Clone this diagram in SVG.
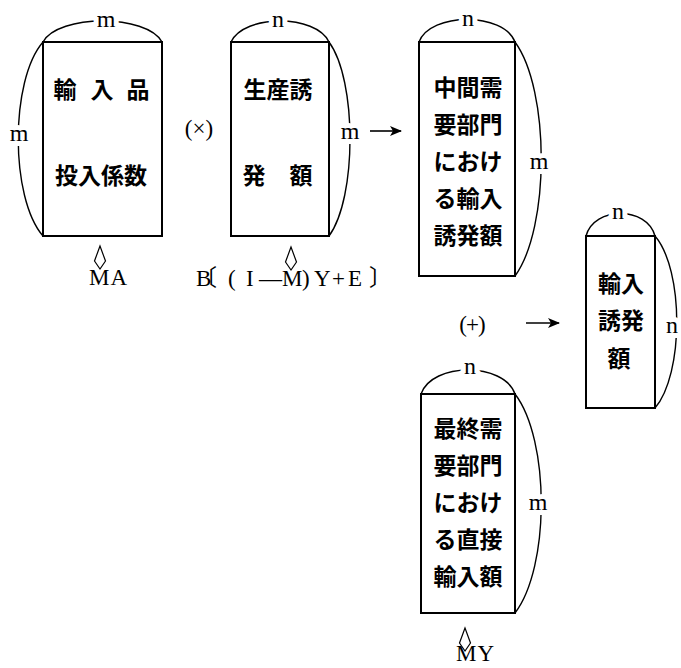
<svg xmlns="http://www.w3.org/2000/svg" width="681" height="668" viewBox="0 0 681 668">
<style>
.box{fill:none;stroke:#000;stroke-width:2}
.arc{fill:none;stroke:#000;stroke-width:1.4}
.jp{font-family:"Noto Sans CJK JP","Noto Sans CJK SC",sans-serif;font-size:23px;font-weight:700;fill:#000;text-anchor:middle}
.lbl{font-family:"Liberation Serif",serif;font-size:24px;fill:#000;text-anchor:middle;stroke:#fff;stroke-width:10px;stroke-linejoin:round;paint-order:stroke}
.ser{font-family:"Liberation Serif","Noto Sans CJK JP",serif;font-size:23px;fill:#000}
.caret{fill:none;stroke:#000;stroke-width:1.2}
.ar{stroke:#000;stroke-width:1.6;fill:none}
</style>
<defs>
<marker id="ah" viewBox="0 0 12 10" refX="11" refY="5" markerWidth="12" markerHeight="10" markerUnits="userSpaceOnUse" orient="auto">
<path d="M0,0 L12,5 L0,10 L3,5 Z" fill="#000"/>
</marker>
</defs>
<rect width="681" height="668" fill="#fff"/>

<g id="connectors">
<line class="ar" x1="370" y1="131" x2="401" y2="131" marker-end="url(#ah)"/>
<line class="ar" x1="526" y1="323" x2="559" y2="323" marker-end="url(#ah)"/>
</g>

<g id="node-import-coeff">
<rect class="box" x="43" y="42" width="119" height="194"/>
<path class="arc" d="M43,42 C58,14 147,14 162,42"/>
<path class="arc" d="M43,42 C10,80 10,198 43,236"/>
<text class="lbl" x="106" y="27">m</text>
<text class="lbl" x="19" y="141">m</text>
<text class="jp" x="65 102 138" y="98">輸入品</text>
<text class="jp" x="101" y="184">投入係数</text>
<path class="caret" d="M100,246 L94.5,261 L100,269 L105.5,261 Z"/>
<text class="ser" x="89" y="285" font-size="24" letter-spacing="1">MA</text>
</g>

<g id="op-times">
<text class="ser" x="199" y="136" font-size="24" text-anchor="middle">(×)</text>
</g>

<g id="node-production">
<rect class="box" x="231" y="42" width="98" height="194"/>
<path class="arc" d="M231,42 C244,14 316,14 329,42"/>
<path class="arc" d="M329,42 C357,80 357,198 329,236"/>
<text class="lbl" x="278" y="27">n</text>
<text class="lbl" x="350" y="139">m</text>
<text class="jp" x="278" y="98">生産誘</text>
<text class="jp" x="254 301" y="184">発額</text>
<path class="caret" d="M291,247 L285.5,262 L291,270 L296.5,262 Z"/>
<text class="ser" x="196 194 228 246 259 282 302 314 332 348 369" y="286">B〔(I—M)Y+E〕</text>
</g>

<g id="node-intermediate">
<rect class="box" x="419" y="42" width="96" height="234"/>
<path class="arc" d="M419,42 C430,12 504,12 515,42"/>
<path class="arc" d="M515,42 C550,90 550,228 515,276"/>
<text class="lbl" x="468" y="26">n</text>
<text class="lbl" x="539" y="169">m</text>
<text class="jp" x="468" y="96">中間需</text>
<text class="jp" x="468" y="133">要部門</text>
<text class="jp" x="468" y="170">におけ</text>
<text class="jp" x="468" y="207">る輸入</text>
<text class="jp" x="468" y="244">誘発額</text>
</g>

<g id="op-plus">
<text class="ser" x="472" y="332" font-size="24" text-anchor="middle" letter-spacing="-1">(+)</text>
</g>

<g id="node-induced-import">
<rect class="box" x="586" y="236" width="69" height="172"/>
<path class="arc" d="M586,236 C594,206 647,206 655,236"/>
<path class="arc" d="M655,236 C684,270 684,374 655,408"/>
<text class="lbl" x="618" y="219">n</text>
<text class="lbl" x="672" y="333">n</text>
<text class="jp" x="621" y="292">輸入</text>
<text class="jp" x="621" y="329">誘発</text>
<text class="jp" x="619" y="367">額</text>
</g>

<g id="node-final-demand">
<rect class="box" x="421" y="394" width="94" height="219"/>
<path class="arc" d="M421,394 C432,362 504,362 515,394"/>
<path class="arc" d="M515,394 C550,440 550,567 515,613"/>
<text class="lbl" x="470" y="374">n</text>
<text class="lbl" x="538" y="510">m</text>
<text class="jp" x="468" y="437">最終需</text>
<text class="jp" x="468" y="474">要部門</text>
<text class="jp" x="468" y="511">におけ</text>
<text class="jp" x="468" y="548">る直接</text>
<text class="jp" x="468" y="585">輸入額</text>
<path class="caret" d="M465,628 L459.5,643 L465,651 L470.5,643 Z"/>
<text class="ser" x="456" y="661" font-size="24" letter-spacing="1">MY</text>
</g>
</svg>
